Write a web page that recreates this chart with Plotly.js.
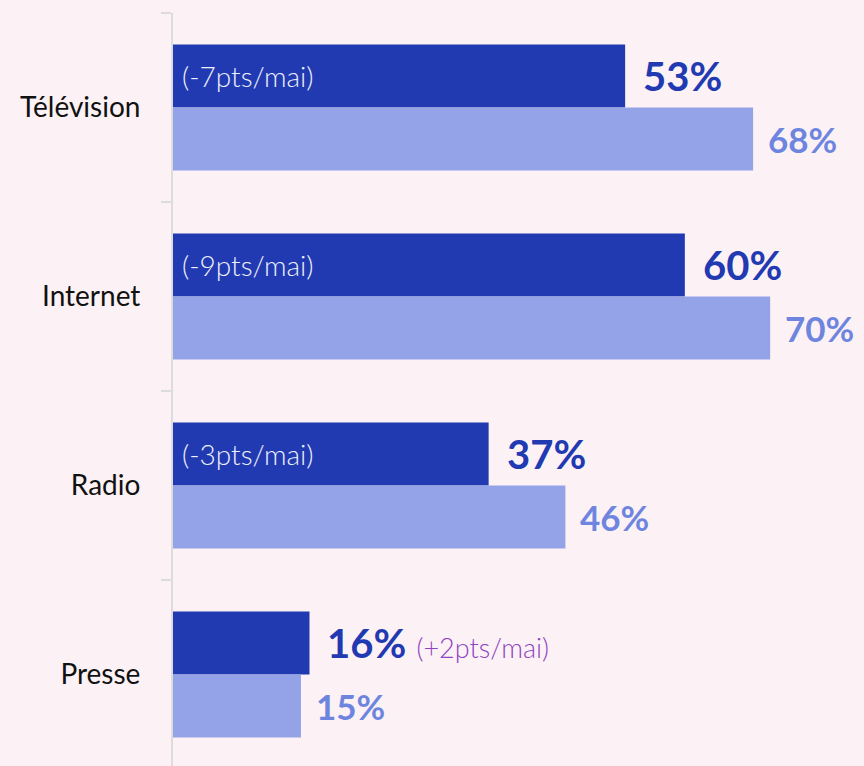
<!DOCTYPE html>
<html>
<head>
<meta charset="utf-8">
<script src="https://cdn.plot.ly/plotly-3.0.1.min.js"></script>
<style>html,body{margin:0;padding:0;background:#fcf1f5;}#chart{width:864px;height:766px;}</style>
</head>
<body>
<div id="chart"></div>
<script>
const categories = ['Télévision', 'Internet', 'Radio', 'Presse'];
const currentValues = [53, 60, 37, 16];
const mayValues = [68, 70, 46, 15];
const changeNotes = ['(-7pts/mai)', '(-9pts/mai)', '(-3pts/mai)', '(+2pts/mai)'];

const DARK = '#213ab2';
const LIGHT = '#94a3e8';
const LIGHT_TXT = '#6e85e0';
const PURPLE = '#8e44c4';
const FONT = 'Lato, "Noto Sans", sans-serif';

const traces = [
  {type: 'bar', orientation: 'h', name: 'Actuel', y: categories, x: currentValues,
   marker: {color: DARK}, hoverinfo: 'skip'},
  {type: 'bar', orientation: 'h', name: 'Mai', y: categories, x: mayValues,
   marker: {color: LIGHT}, hoverinfo: 'skip'}
];

const annotations = [];
categories.forEach((c, i) => {
  const inside = currentValues[i] > 30;
  let txt = '<b>' + currentValues[i] + '%</b>';
  if (!inside) {
    txt += ' <span style="font-size:27px;font-weight:300;color:' + PURPLE + '">' + changeNotes[i] + '</span>';
  }
  annotations.push({x: currentValues[i], y: i - 1/6, xref: 'x', yref: 'y', text: txt,
    showarrow: false, xanchor: 'left', yanchor: 'middle', xshift: 16,
    font: {family: FONT, size: 40, color: DARK}});
  annotations.push({x: mayValues[i], y: i + 1/6, xref: 'x', yref: 'y', text: '<b>' + mayValues[i] + '%</b>',
    showarrow: false, xanchor: 'left', yanchor: 'middle', xshift: 13,
    font: {family: FONT, size: 35, color: LIGHT_TXT}});
  if (inside) {
    annotations.push({x: 0, y: i - 1/6, xref: 'x', yref: 'y', text: changeNotes[i],
      showarrow: false, xanchor: 'left', yanchor: 'middle', xshift: 7,
      font: {family: FONT, size: 28, color: '#eef0fb', weight: 300}});
  }
});

const layout = {
  width: 864, height: 766,
  paper_bgcolor: '#fcf1f5', plot_bgcolor: '#fcf1f5',
  margin: {l: 173, r: 0, t: 13, b: 0},
  barmode: 'group', bargap: 1/3, bargroupgap: 0,
  showlegend: false,
  xaxis: {visible: false, range: [0, 81], fixedrange: true},
  yaxis: {type: 'category', range: [3.484, -0.5], tickson: 'boundaries',
    showline: true, linecolor: '#dcdcdc', linewidth: 2,
    ticks: 'outside', ticklen: 10, tickcolor: '#dcdcdc', tickwidth: 2,
    showgrid: false, zeroline: false, ticklabelstandoff: 25,
    tickfont: {family: FONT, size: 28, color: '#111111'}},
  annotations: annotations,
  font: {family: FONT}
};

Plotly.newPlot('chart', traces, layout, {displayModeBar: false, staticPlot: true});
</script>
</body>
</html>
